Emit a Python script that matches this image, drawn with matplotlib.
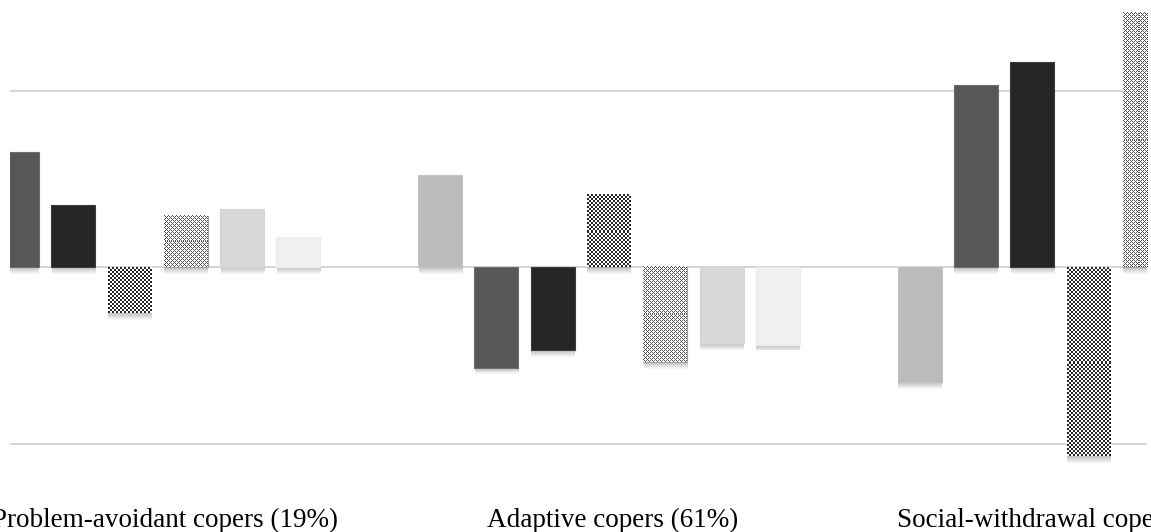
import numpy as np
import matplotlib
matplotlib.use('Agg')
import matplotlib.pyplot as plt
import matplotlib.patheffects as pe
from matplotlib.transforms import blended_transform_factory

# groups and series (values in units of the gridline spacing)
groups = ['Problem-avoidant copers (19%)', 'Adaptive copers (61%)', 'Social-withdrawal copers (20%)']
label_x = [0.075, 1.008, 1.966]
series = ['s1', 's2', 's3', 's4', 's5', 's6', 's7']
s1 = [0.30, 0.52, -0.65]
s2 = [0.65, -0.57, 1.03]
s3 = [0.35, -0.47, 1.16]
s4 = [-0.26, 0.41, -1.07]
s5 = [0.29, -0.54, 1.44]
s6 = [0.33, -0.43, 0.40]
s7 = [0.17, -0.44, 0.30]
values = [s1, s2, s3, s4, s5, s6, s7]

colors = ['#bbbbbb', '#575757', '#252525', 'checker', 'diamond', '#d8d8d8', '#f0f0f0']
edges = ['#c2c2c2', '#6e6e6e', '#3c3c3c', 'none', '#a0a0a0', '#d4d4d4', '#ececec']

fig = plt.figure(figsize=(11.51, 5.32), dpi=100)
W, H = 1151, 532
ax = fig.add_axes([10 / W, 62 / H, 1137 / W, 470 / H])

xmin, xmax = (10 - 129.5) / 479.5, (1147 - 129.5) / 479.5
ymin, ymax = -(470 - 267) / 176.5, 267 / 176.5
ax.set_xlim(xmin, xmax)
ax.set_ylim(ymin, ymax)

for y in [-1, 0, 1]:
    ax.axhline(y, color='#d2d2d2', lw=1.3, zorder=0)

x = np.arange(len(groups))
step = 56.3 / 479.5
width = 44 / 479.5

# soft drop shadow: stacked faint offsets
shadow = [pe.SimplePatchShadow(offset=(0.3, -0.7 * n), shadow_rgbFace='k', alpha=0.035)
          for n in range(1, 8)] + [pe.Normal()]

sx = 1137 / (xmax - xmin)
sy = 470 / (ymax - ymin)


def texture(kind, w_px, h_px):
    if kind == 'checker':
        ncols, nrows = int(round(w_px / 2)), max(1, int(round(h_px / 2)))
        i, j = np.mgrid[0:nrows, 0:ncols]
        img = np.ones((nrows, ncols, 3))
        img[((i + j) % 2) == 0] = 0.15
    else:
        ncols, nrows = int(round(w_px)), max(1, int(round(h_px)))
        i, j = np.mgrid[0:nrows, 0:ncols]
        img = np.ones((nrows, ncols, 3))
        img[((i + j) % 4 == 0) | ((i - j) % 4 == 0)] = 0.33
    return img


for k, vals in enumerate(values):
    pos = x + (k - 3) * step
    c = colors[k]
    face = 'white' if c in ('checker', 'diamond') else c
    bars = ax.bar(pos, vals, width, color=face, edgecolor=edges[k], lw=0.8, zorder=2)
    for b in bars:
        b.set_path_effects(shadow)
        if c in ('checker', 'diamond'):
            x0, y0 = b.get_x(), b.get_y()
            w, h = b.get_width(), b.get_height()
            ylo, yhi = min(y0, y0 + h), max(y0, y0 + h)
            ax.imshow(texture(c, w * sx, abs(h) * sy), extent=(x0, x0 + w, ylo, yhi),
                      interpolation='nearest', aspect='auto', zorder=3,
                      clip_path=b, clip_on=True)

ax.set_xlim(xmin, xmax)
ax.set_ylim(ymin, ymax)
ax.axis('off')

# group labels sit below the plot, cut by the figure edges like the reference
tr = blended_transform_factory(ax.transData, fig.transFigure)
for lx, name in zip(label_x, groups):
    ax.text(lx, 5 / H, name, transform=tr, ha='center', va='baseline',
            fontsize=19.5, family='Liberation Serif', color='black', clip_on=False)

fig.savefig('out.png', dpi=100)
